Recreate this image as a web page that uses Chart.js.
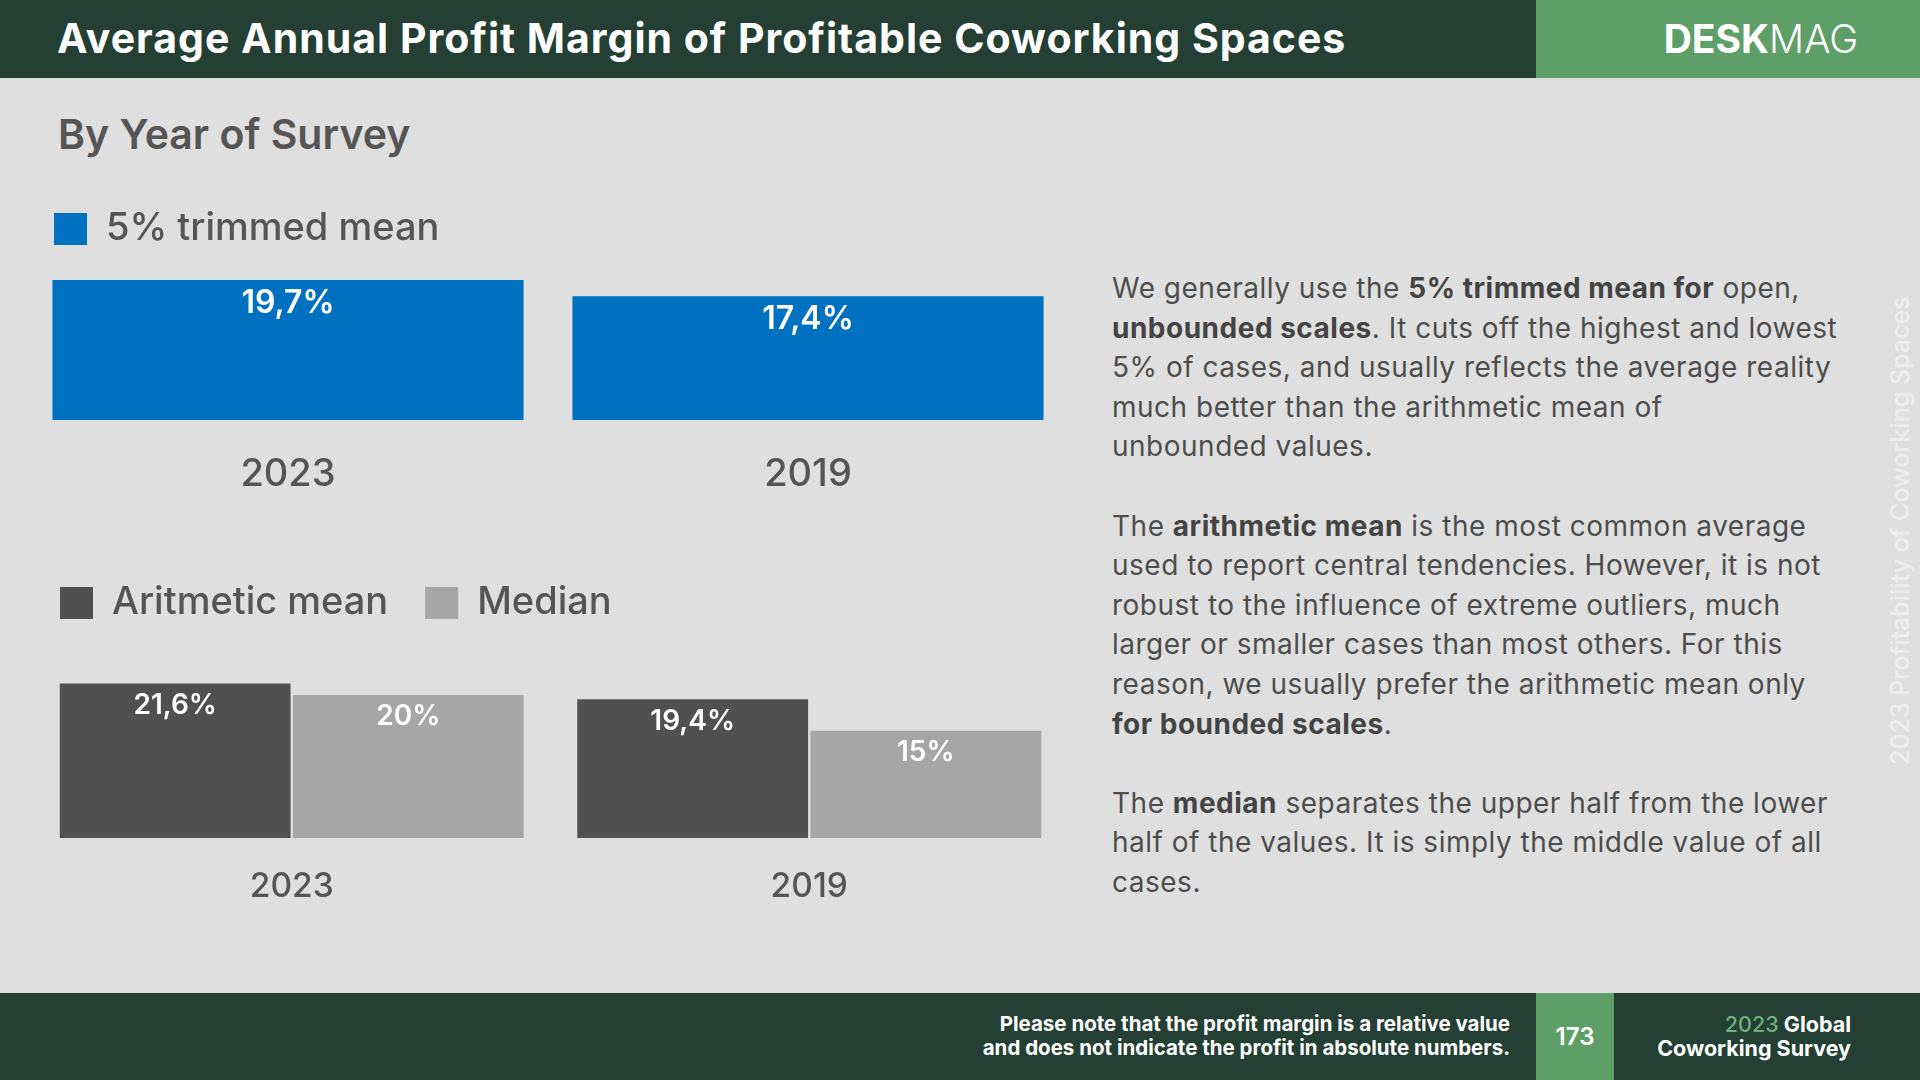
<!DOCTYPE html>
<html>
<head>
<meta charset="utf-8">
<script src="https://cdn.jsdelivr.net/npm/chart.js@4.4.1/dist/chart.umd.min.js"></script>
<style>
  body { margin: 0; width: 1920px; height: 1080px; background: #dfdfdf; font-family: Inter, sans-serif; position: relative; overflow: hidden; }
  .header { position: absolute; left: 0; top: 0; width: 1536px; height: 78px; background: #243f34; }
  .header h1 { margin: 0; position: absolute; left: 57px; top: 0; line-height: 76px; font-size: 41px; letter-spacing: 1px; font-weight: 700; color: #fff; white-space: nowrap; }
  .logo { position: absolute; left: 1536px; top: 0; width: 318px; padding-left: 66px; height: 78px; background: #5e9f68; color: #fff; font-size: 39px; line-height: 78px; text-align: center; }
  .logo b { font-weight: 700; }
  .logo span { font-weight: 300; }
  .sub { position: absolute; left: 58px; top: 109px; font-size: 41px; font-weight: 600; color: #555; white-space: nowrap; }
  canvas { position: absolute; }
  .text { position: absolute; left: 1112px; top: 269px; font-size: 28px; letter-spacing: 0.5px; line-height: 39.6px; color: #4d4d4d; white-space: nowrap; }
  .text p { margin: 0 0 39.6px 0; }
  .text b { font-weight: 700; color: #444; }
  .vert { position: absolute; left: 1670px; top: 520px; width: 460px; height: 30px; line-height: 30px; text-align: center; transform: rotate(-90deg); font-size: 25px; font-weight: 500; color: #ededed; white-space: nowrap; }
  .footer { position: absolute; left: 0; top: 993px; width: 1920px; height: 87px; background: #243f34; }
  .note { position: absolute; right: 410px; top: 19px; text-align: right; color: #fff; font-size: 20.5px; font-weight: 700; line-height: 24px; }
  .page { position: absolute; left: 1536px; top: 0; width: 78px; height: 87px; background: #5e9f68; color: #fff; font-size: 24px; font-weight: 600; line-height: 87px; text-align: center; }
  .survey { position: absolute; right: 69px; top: 19px; text-align: right; color: #fff; font-size: 21.5px; font-weight: 700; line-height: 24px; }
  .survey span { color: #6fb07a; font-weight: 500; }
</style>
</head>
<body>
<div class="header"><h1>Average Annual Profit Margin of Profitable Coworking Spaces</h1></div>
<div class="logo"><b>DESK</b><span>MAG</span></div>
<div class="sub">By Year of Survey</div>

<canvas id="chart1" width="1040" height="316" style="left:28px;top:184px"></canvas>
<canvas id="chart2" width="1045" height="371" style="left:23px;top:547px"></canvas>

<div class="text">
  <p>We generally use the <b>5% trimmed mean for</b> open,<br>
  <b>unbounded scales</b>. It cuts off the highest and lowest<br>
  5% of cases, and usually reflects the average reality<br>
  much better than the arithmetic mean of<br>
  unbounded values.</p>
  <p>The <b>arithmetic mean</b> is the most common average<br>
  used to report central tendencies. However, it is not<br>
  robust to the influence of extreme outliers, much<br>
  larger or smaller cases than most others. For this<br>
  reason, we usually prefer the arithmetic mean only<br>
  <b>for bounded scales</b>.</p>
  <p>The <b>median</b> separates the upper half from the lower<br>
  half of the values. It is simply the middle value of all<br>
  cases.</p>
</div>

<div class="vert">2023 Profitability of Coworking Spaces</div>

<div class="footer">
  <div class="note">Please note that the profit margin is a relative value<br>and does not indicate the profit in absolute numbers.</div>
  <div class="page">173</div>
  <div class="survey"><span>2023</span> Global<br>Coworking Survey</div>
</div>

<script>
const years = ['2023', '2019'];
const trimmedMean = [19.7, 17.4];
const arithmeticMean = [21.6, 19.4];
const median = [20, 15];

// white value labels just inside the top of each bar
const valueLabels = {
    id: 'valueLabels',
    afterDatasetsDraw(chart, args, opts) {
        const ctx = chart.ctx;
        ctx.save();
        ctx.font = opts.font;
        ctx.fillStyle = '#fff';
        ctx.textAlign = 'center';
        ctx.textBaseline = 'middle';
        chart.data.datasets.forEach((ds, i) => {
            chart.getDatasetMeta(i).data.forEach((bar, j) => {
                ctx.fillText(String(ds.data[j]).replace('.', ',') + '%', bar.x, bar.y + opts.offset);
            });
        });
        ctx.restore();
    }
};

function makeOptions(yMax, yWidth, legendPad, tickPad, tickSize, labelFont, labelOffset) {
    return {
        responsive: false,
        animation: false,
        layout: { padding: 0 },
        plugins: {
            legend: {
                position: 'top',
                align: 'start',
                labels: {
                    boxWidth: 33,
                    boxHeight: 32,
                    padding: legendPad,
                    color: '#555',
                    font: { family: 'Inter', size: 38, weight: '500' }
                }
            },
            tooltip: { enabled: false },
            valueLabels: { font: labelFont, offset: labelOffset }
        },
        scales: {
            x: {
                grid: { display: false },
                border: { display: false },
                ticks: { color: '#555', padding: tickPad, font: { family: 'Inter', size: tickSize, weight: '500' } },
                afterFit: (axis) => { axis.height = 80; }
            },
            y: {
                min: 0,
                max: yMax,
                grid: { display: false },
                border: { display: false },
                ticks: { display: false },
                afterFit: (axis) => { axis.width = yWidth; }
            }
        }
    };
}

new Chart(document.getElementById('chart1'), {
    type: 'bar',
    data: {
        labels: years,
        datasets: [{
            label: '5% trimmed mean',
            data: trimmedMean,
            backgroundColor: '#0070c0',
            barPercentage: 0.906,
            categoryPercentage: 1
        }]
    },
    options: makeOptions(22.8, 0, 26, 24, 38, '600 32px Inter', 23),
    plugins: [valueLabels]
});

new Chart(document.getElementById('chart2'), {
    type: 'bar',
    data: {
        labels: years,
        datasets: [{
                label: 'Aritmetic mean',
                data: arithmeticMean,
                backgroundColor: '#505050',
                barPercentage: 0.99,
                categoryPercentage: 0.901
            },
            {
                label: 'Median',
                data: median,
                backgroundColor: '#a6a6a6',
                barPercentage: 0.99,
                categoryPercentage: 0.901
            }
        ]
    },
    options: makeOptions(28.8, 10, 37, 21, 33.5, '600 28px Inter', 22),
    plugins: [valueLabels]
});
</script>
</body>
</html>
